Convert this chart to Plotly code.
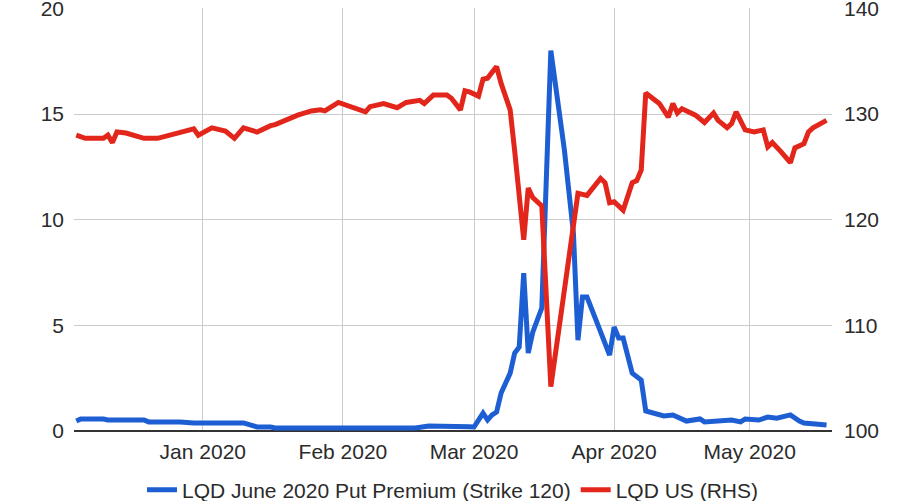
import plotly.graph_objects as go

# ---- Data ----
put_dates = [
    "2019-12-04", "2019-12-05", "2019-12-10", "2019-12-11", "2019-12-19", "2019-12-20",
    "2019-12-27", "2019-12-30", "2020-01-10", "2020-01-13", "2020-01-16", "2020-01-17",
    "2020-02-17", "2020-02-20", "2020-02-29", "2020-03-01", "2020-03-03", "2020-03-04",
    "2020-03-05", "2020-03-06", "2020-03-07", "2020-03-09", "2020-03-10", "2020-03-11",
    "2020-03-12", "2020-03-13", "2020-03-14", "2020-03-16", "2020-03-18", "2020-03-19",
    "2020-03-21", "2020-03-23", "2020-03-24", "2020-03-25", "2020-03-26", "2020-03-28",
    "2020-03-31", "2020-04-01", "2020-04-02", "2020-04-03", "2020-04-05", "2020-04-07",
    "2020-04-08", "2020-04-12", "2020-04-14", "2020-04-17", "2020-04-20", "2020-04-21",
    "2020-04-25", "2020-04-27", "2020-04-29", "2020-04-30", "2020-05-03", "2020-05-05",
    "2020-05-07", "2020-05-10", "2020-05-12", "2020-05-13", "2020-05-18",
]
put_premium = [
    0.47, 0.57, 0.57, 0.52, 0.52, 0.43,
    0.43, 0.38, 0.38, 0.19, 0.19, 0.14,
    0.14, 0.24, 0.20, 0.19, 0.85, 0.52,
    0.76, 0.90, 1.80, 2.74, 3.69, 3.97,
    7.47, 3.69, 4.68, 5.82, 18.0, 16.45,
    13.3, 9.36, 4.30, 6.34, 6.34, 5.25,
    3.59, 4.92, 4.40, 4.40, 2.74, 2.41,
    0.95, 0.71, 0.76, 0.47, 0.57, 0.43,
    0.47, 0.52, 0.43, 0.57, 0.52, 0.66,
    0.61, 0.76, 0.47, 0.38, 0.28,
]

lqd_dates = [
    "2019-12-04", "2019-12-06", "2019-12-10", "2019-12-11", "2019-12-12", "2019-12-13",
    "2019-12-15", "2019-12-19", "2019-12-22", "2019-12-27", "2019-12-30", "2019-12-31",
    "2020-01-01", "2020-01-03", "2020-01-06", "2020-01-08", "2020-01-10", "2020-01-13",
    "2020-01-16", "2020-01-17", "2020-01-22", "2020-01-25", "2020-01-27", "2020-01-28",
    "2020-01-31", "2020-02-03", "2020-02-05", "2020-02-06", "2020-02-07", "2020-02-10",
    "2020-02-13", "2020-02-15", "2020-02-18", "2020-02-19", "2020-02-21", "2020-02-24",
    "2020-02-25", "2020-02-27", "2020-02-28", "2020-02-29", "2020-03-02", "2020-03-03",
    "2020-03-04", "2020-03-06", "2020-03-07", "2020-03-08", "2020-03-09", "2020-03-10",
    "2020-03-11", "2020-03-12", "2020-03-13", "2020-03-14", "2020-03-16", "2020-03-18",
    "2020-03-24", "2020-03-26", "2020-03-29", "2020-03-30", "2020-03-31", "2020-04-01",
    "2020-04-03", "2020-04-05", "2020-04-06", "2020-04-07", "2020-04-08", "2020-04-11",
    "2020-04-13", "2020-04-14", "2020-04-15", "2020-04-16", "2020-04-19", "2020-04-21",
    "2020-04-23", "2020-04-24", "2020-04-26", "2020-04-27", "2020-04-28", "2020-04-30",
    "2020-05-02", "2020-05-04", "2020-05-05", "2020-05-06", "2020-05-08", "2020-05-10",
    "2020-05-11", "2020-05-13", "2020-05-14", "2020-05-15", "2020-05-18",
]
lqd_price = [
    128.0, 127.7, 127.7, 128.0, 127.3, 128.3,
    128.2, 127.7, 127.7, 128.3, 128.6, 128.0,
    128.2, 128.7, 128.4, 127.7, 128.7, 128.3,
    128.9, 129.0, 129.9, 130.3, 130.4, 130.3,
    131.1, 130.6, 130.3, 130.2, 130.7, 131.0,
    130.6, 131.1, 131.3, 131.0, 131.8, 131.8,
    131.5, 130.4, 132.2, 132.1, 131.7, 133.3,
    133.4, 134.5, 132.9, 131.5, 130.4, 126.5,
    122.5, 118.1, 123.0, 122.1, 121.3, 104.2,
    122.5, 122.3, 123.9, 123.5, 121.6, 121.7,
    120.9, 123.5, 123.7, 124.7, 132.0, 131.0,
    129.7, 131.0, 130.1, 130.5, 129.9, 129.2,
    130.1, 129.4, 128.7, 129.1, 130.2, 128.5,
    128.3, 128.5, 126.9, 127.3, 126.4, 125.4,
    126.8, 127.2, 128.3, 128.7, 129.4,
]

series_names = ["LQD June 2020 Put Premium (Strike 120)", "LQD US (RHS)"]
left_ticks = [0, 5, 10, 15, 20]
right_ticks = [100, 110, 120, 130, 140]

BLUE = "#1d5fd3"
RED = "#e3261b"
FONT = "Liberation Sans, Arial, sans-serif"
TXT = "#2b2b2b"
FS = 21

fig = go.Figure()
fig.add_trace(go.Scatter(
    x=put_dates, y=put_premium, name=series_names[0], mode="lines",
    line=dict(color=BLUE, width=5), yaxis="y",
))
fig.add_trace(go.Scatter(
    x=lqd_dates, y=lqd_price, name=series_names[1], mode="lines",
    line=dict(color=RED, width=5), yaxis="y2",
))

fig.update_layout(
    width=906, height=501,
    margin=dict(l=74, r=74, t=8, b=70, autoexpand=False),
    paper_bgcolor="white", plot_bgcolor="white",
    font=dict(family=FONT, size=FS, color=TXT),
    showlegend=True,
    legend=dict(orientation="h", x=0.5, xanchor="center", y=-0.14, yanchor="middle",
                font=dict(size=FS, color=TXT), itemwidth=30, tracegroupgap=0),
    xaxis=dict(
        type="date",
        range=["2019-12-03 12:00", "2020-05-19 05:00"],
        tick0="2020-01-01", dtick="M1", tickformat="%b %Y",
        showgrid=True, gridcolor="#cccccc", gridwidth=1,
        showline=False, zeroline=False, ticks="", ticklabelstandoff=6,
        automargin=False, ticklabeloverflow="allow",
        tickfont=dict(size=FS, color=TXT),
    ),
    yaxis=dict(
        range=[0, 20.02], tickvals=left_ticks,
        showgrid=True, gridcolor="#cccccc", gridwidth=1,
        zeroline=True, zerolinecolor="#333333", zerolinewidth=1.5,
        showline=False, ticks="", ticklabelstandoff=9, automargin=False,
        ticklabeloverflow="allow",
        tickfont=dict(size=FS, color=TXT),
    ),
    yaxis2=dict(
        range=[100, 140.04], tickvals=right_ticks, overlaying="y", side="right",
        showgrid=False, zeroline=False, showline=False, ticks="", ticklabelstandoff=11,
        automargin=False, ticklabeloverflow="allow",
        tickfont=dict(size=FS, color=TXT),
    ),
)

fig.write_html("out.html", config={"displayModeBar": False},
               post_script="document.body.style.margin='0';")
